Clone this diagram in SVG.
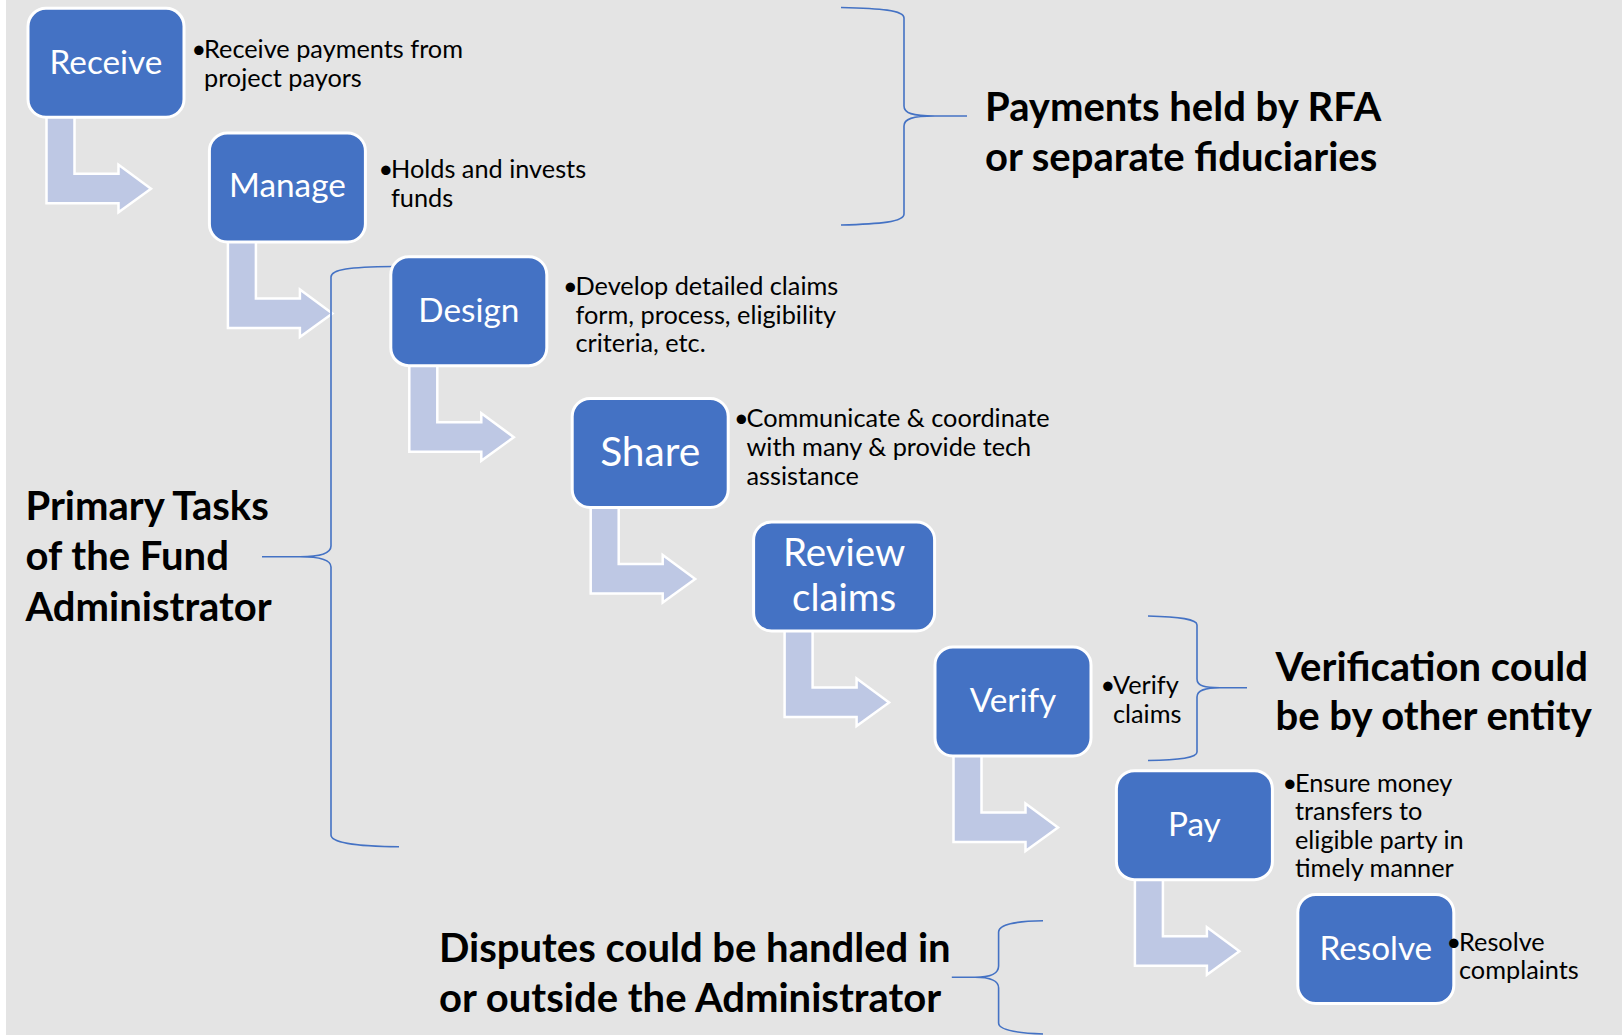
<svg xmlns="http://www.w3.org/2000/svg" width="1622" height="1035" viewBox="0 0 1622 1035">
<style>
.box{fill:#4472C4;stroke:#FFFFFF;stroke-width:3}
.arr{fill:#BEC8E4;stroke:#FFFFFF;stroke-width:2.5;stroke-linejoin:miter}
.brace{fill:none;stroke:#4472C4;stroke-width:1.6}
.lbl{font-family:Lato,"Liberation Sans",sans-serif;font-size:33.3px;fill:#FFFFFF;text-anchor:middle}
.txt{font-family:Lato,"Liberation Sans",sans-serif;font-size:25.3px;fill:#000000}
.big{font-family:Lato,"Liberation Sans",sans-serif;font-size:40px;font-weight:bold;fill:#000000}
</style>
<rect x="0" y="0" width="1622" height="1035" fill="#FFFFFF"/>
<rect x="6" y="0" width="1616" height="1035" fill="#E4E4E4"/>

<g id="connectors">
<path class="arr" d="M46.5,108.3 V203.3 H118.5 V212.3 L151,188.8 L118.5,164.8 V173.8 H74.5 V108.3 Z"/>
<path class="arr" d="M227.9,233 V328 H299.9 V337 L332.4,313.5 L299.9,289.5 V298.5 H255.9 V233 Z"/>
<path class="arr" d="M409.3,356.7 V451.7 H481.3 V460.7 L513.8,437.2 L481.3,413.2 V422.2 H437.3 V356.7 Z"/>
<path class="arr" d="M590.7,498.5 V593.5 H662.7 V602.5 L695.2,579 L662.7,555 V564 H618.7 V498.5 Z"/>
<path class="arr" d="M784.6,622 V717 H856.6 V726 L889.1,702.5 L856.6,678.5 V687.5 H812.6 V622 Z"/>
<path class="arr" d="M953.5,747 V842 H1025.5 V851 L1058,827.5 L1025.5,803.5 V812.5 H981.5 V747 Z"/>
<path class="arr" d="M1134.9,870.7 V965.7 H1206.9 V974.7 L1239.4,951.2 L1206.9,927.2 V936.2 H1162.9 V870.7 Z"/>
</g>

<g id="braces">
<path class="brace" d="M841,7.5 C880,8.5 904,10 904,18 L904,106 C904,113 912,116 935,116 L967,116 M935,116 C912,116 904,119 904,126 L904,214 C904,222 880,224 841,225"/>
<path class="brace" d="M393,266.5 C350,267 331,269 331,277 L331,546 C331,553 320,556.7 300,556.7 L262,556.7 M300,556.7 C320,556.7 331,560 331,567 L331,835 C331,843 360,846.5 399,846.7"/>
<path class="brace" d="M1148,616 C1180,617 1197,619 1197,625 L1197,679 C1197,686 1205,687.7 1220,687.7 L1247,687.7 M1220,687.7 C1205,687.7 1197,690 1197,697 L1197,752 C1197,758 1180,760 1148,760.5"/>
<path class="brace" d="M1043,920.7 C1015,921 998.6,925 998.6,932 L998.6,966 C998.6,974 990,977.3 975,977.3 L951.8,977.3 M975,977.3 C990,977.3 998.6,981 998.6,988 L998.6,1023 C998.6,1030 1015,1033 1043,1034"/>
</g>

<g id="node-receive">
<rect class="box" x="28" y="8.3" width="156" height="109" rx="18"/>
<text class="lbl" x="106" y="73.5">Receive</text>
<text class="txt" x="191.5" y="58.3">•<tspan x="204">Receive payments from</tspan><tspan x="204" y="86.7">project payors</tspan></text>
</g>
<g id="node-manage">
<rect class="box" x="209.4" y="133" width="156" height="109" rx="18"/>
<text class="lbl" x="287.4" y="196.5">Manage</text>
<text class="txt" x="378.5" y="178.3">•<tspan x="391">Holds and invests</tspan><tspan x="391" y="206.7">funds</tspan></text>
</g>
<g id="node-design">
<rect class="box" x="390.8" y="256.7" width="156" height="109" rx="18"/>
<text class="lbl" x="468.8" y="322">Design</text>
<text class="txt" x="563" y="295">•<tspan x="575.5">Develop detailed claims</tspan><tspan x="575.5" y="323.5">form, process, eligibility</tspan><tspan x="575.5" y="352">criteria, etc.</tspan></text>
</g>
<g id="node-share">
<rect class="box" x="572.2" y="398.5" width="156" height="109" rx="18"/>
<text class="lbl" x="650.2" y="466" style="font-size:40.7px">Share</text>
<text class="txt" x="734" y="427">•<tspan x="746.5">Communicate &amp; coordinate</tspan><tspan x="746.5" y="456">with many &amp; provide tech</tspan><tspan x="746.5" y="484.5">assistance</tspan></text>
</g>
<g id="node-review">
<rect class="box" x="753.6" y="522" width="181" height="109" rx="18"/>
<text class="lbl" x="844.1" y="565.5" style="font-size:38.5px">Review</text>
<text class="lbl" x="844.1" y="611" style="font-size:38.5px">claims</text>
</g>
<g id="node-verify">
<rect class="box" x="935" y="647" width="156" height="109" rx="18"/>
<text class="lbl" x="1013" y="712">Verify</text>
<text class="txt" x="1100.5" y="694">•<tspan x="1113">Verify</tspan><tspan x="1113" y="723">claims</tspan></text>
</g>
<g id="node-pay">
<rect class="box" x="1116.4" y="770.7" width="156" height="109" rx="18"/>
<text class="lbl" x="1194.4" y="836">Pay</text>
<text class="txt" x="1282.5" y="791.7">•<tspan x="1295">Ensure money</tspan><tspan x="1295" y="820">transfers to</tspan><tspan x="1295" y="848.5">eligible party in</tspan><tspan x="1295" y="877">timely manner</tspan></text>
</g>
<g id="node-resolve">
<rect class="box" x="1297.8" y="894.5" width="156" height="109" rx="18"/>
<text class="lbl" x="1375.8" y="959.5">Resolve</text>
<text class="txt" x="1446.5" y="951">•<tspan x="1459">Resolve</tspan><tspan x="1459" y="979.3">complaints</tspan></text>
</g>

<g id="label-payments">
<text class="big" x="985" y="121">Payments held by RFA</text>
<text class="big" x="985" y="171">or separate fiduciaries</text>
</g>
<g id="label-primary">
<text class="big" x="25.5" y="519.5">Primary Tasks</text>
<text class="big" x="25.5" y="569.5">of the Fund</text>
<text class="big" x="25.5" y="620.5">Administrator</text>
</g>
<g id="label-verification">
<text class="big" x="1275.5" y="680.5">Verification could</text>
<text class="big" x="1275.5" y="730">be by other entity</text>
</g>
<g id="label-disputes">
<text class="big" x="439" y="962">Disputes could be handled in</text>
<text class="big" x="439" y="1012">or outside the Administrator</text>
</g>
</svg>
